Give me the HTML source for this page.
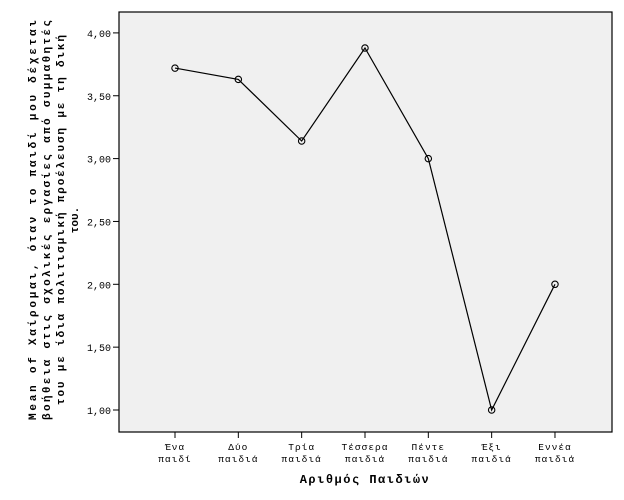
<!DOCTYPE html>
<html><head><meta charset="utf-8"><style>
body{margin:0;background:#fff}
svg{display:block}
text{font-family:"Liberation Mono","DejaVu Sans Mono",monospace;fill:#000}
</style></head><body>
<svg id="chart" width="624" height="500" viewBox="0 0 624 500">
<rect x="0" y="0" width="624" height="500" fill="#fff"/>
<rect x="119" y="12" width="493" height="420" fill="#f0f0f0" stroke="#000" stroke-width="1.2"/>
<g id="yaxis"></g>
<g id="xaxis"></g>
<g id="series"></g>
<g font-size="11" font-weight="bold">
<text transform="translate(36,220) rotate(-90)" text-anchor="middle" textLength="400" lengthAdjust="spacing">Mean of Χαίρομαι, όταν το παιδί μου δέχεται</text>
<text transform="translate(50,220) rotate(-90)" text-anchor="middle" textLength="400" lengthAdjust="spacing">βοήθεια στις σχολικές εργασίες από συμμαθητές</text>
<text transform="translate(64,220) rotate(-90)" text-anchor="middle" textLength="370" lengthAdjust="spacing">του με ίδια πολιτισμική προέλευση με τη δική</text>
<text transform="translate(78,220) rotate(-90)" text-anchor="middle">του.</text>
</g>
<text x="365" y="483" text-anchor="middle" font-size="12" font-weight="bold" letter-spacing="1.5">Αριθμός Παιδιών</text>
</svg>
<script>
const categoriesL1 = ["Ένα","Δύο","Τρία","Τέσσερα","Πέντε","Έξι","Εννέα"];
const categoriesL2 = ["παιδί","παιδιά","παιδιά","παιδιά","παιδιά","παιδιά","παιδιά"];
const values = [3.72, 3.63, 3.14, 3.88, 3.00, 1.00, 2.00];
const yTicks = [1.0, 1.5, 2.0, 2.5, 3.0, 3.5, 4.0];
const yTickLabels = ["1,00","1,50","2,00","2,50","3,00","3,50","4,00"];

const NS = "http://www.w3.org/2000/svg";
function xPos(i){ return 175 + i * 63.33; }
function yPos(v){ return 410 - (v - 1) * 125.7; }
function mk(tag, attrs, parent){ const e = document.createElementNS(NS, tag); for (const k in attrs) e.setAttribute(k, attrs[k]); parent.appendChild(e); return e; }

const ya = document.getElementById('yaxis');
yTicks.forEach((v, i) => {
  const y = yPos(v);
  const t = mk('line', {x1:113, x2:119, y1:y, y2:y, stroke:'#000'}, ya);
  
  
  const l = mk('text', {x:111, y:y+4, 'text-anchor':'end', 'font-size':'10'}, ya);
  
  
  l.textContent = yTickLabels[i];
});

const xa = document.getElementById('xaxis');
categoriesL1.forEach((c, i) => {
  const x = xPos(i);
  const t = mk('line', {x1:x, x2:x, y1:432, y2:438, stroke:'#000'}, xa);
  
  
  const l = mk('text', {x:x, y:450, 'text-anchor':'middle', 'font-size':'9.5', 'letter-spacing':'1'}, xa);
  
  
  l.textContent = c;
  const l2 = mk('text', {x:x, y:462, 'text-anchor':'middle', 'font-size':'9.5', 'letter-spacing':'1'}, xa);
  
  
  l2.textContent = categoriesL2[i];
});

const s = document.getElementById('series');
const pts = values.map((v, i) => xPos(i) + ',' + yPos(v)).join(' ');
const pl = mk('polyline', {points:pts, fill:'none', stroke:'#000', 'stroke-width':'1.2'}, s);


values.forEach((v, i) => {
  const c = mk('circle', {cx:xPos(i), cy:yPos(v), r:3.2, fill:'none', stroke:'#000', 'stroke-width':'1.1'}, s);
  
  
});
</script>
</body></html>
